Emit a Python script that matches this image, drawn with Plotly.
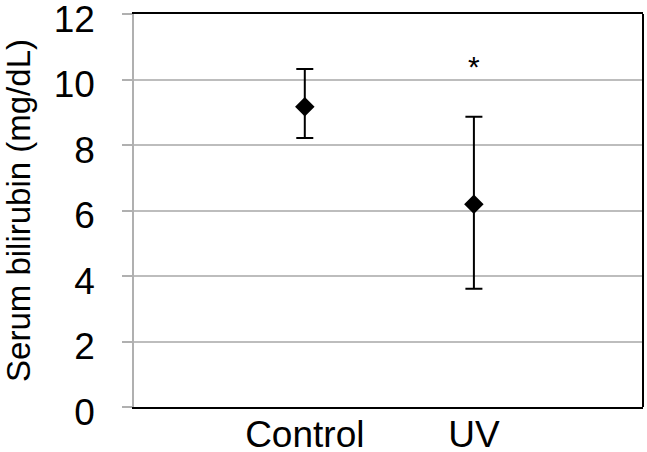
import plotly.graph_objects as go

categories = ["Control", "UV"]
means = [9.17, 6.19]
upper = [10.32, 8.86]
lower = [8.21, 3.61]
y_ticks = [0, 2, 4, 6, 8, 10, 12]
sig_label = "*"
sig_y = 10.4

err_plus = [u - m for u, m in zip(upper, means)]
err_minus = [m - l for m, l in zip(means, lower)]

FONT = "Liberation Sans, Arial, Helvetica, sans-serif"

fig = go.Figure()
fig.add_trace(go.Scatter(
    x=categories, y=means, mode="markers",
    marker=dict(symbol="diamond", size=15, color="black"),
    error_y=dict(type="data", symmetric=False, array=err_plus, arrayminus=err_minus,
                 color="black", thickness=2, width=8.5),
    showlegend=False,
))

fig.add_annotation(x="UV", y=sig_y, text=sig_label, showarrow=False,
                   font=dict(size=30, color="black", family=FONT), yanchor="middle")

fig.add_shape(type="line", xref="paper", yref="paper", x0=1, x1=1, y0=0, y1=1,
              line=dict(color="black", width=2))

fig.update_layout(
    width=647, height=452,
    margin=dict(l=134, r=4, t=14, b=45),
    paper_bgcolor="white", plot_bgcolor="white",
    font=dict(family=FONT, color="black"),
    xaxis=dict(type="category", range=[-1.01, 2], showgrid=False, automargin=False,
               showline=True, linecolor="black", linewidth=2, mirror=True,
               ticks="", tickfont=dict(size=37), ticklabelstandoff=-6, zeroline=False),
    yaxis=dict(range=[0, 12], tickvals=y_ticks, showgrid=True, gridcolor="#bdbdbd",
               gridwidth=1.5, showline=True, linecolor="#b0b0b0", linewidth=1.5,
               ticks="outside", ticklen=10, tickcolor="#b0b0b0", tickwidth=1.5,
               tickfont=dict(size=37), ticklabelstandoff=20, ticklabelshift=5,
               zeroline=False, automargin=False, ticklabeloverflow="allow",
               title=dict(text="Serum bilirubin (mg/dL)", font=dict(size=33), standoff=24)),
)

fig.write_html("out.html", config={"displayModeBar": False},
               post_script="document.body.style.margin='0';document.body.style.padding='0';document.body.style.overflow='hidden';")
